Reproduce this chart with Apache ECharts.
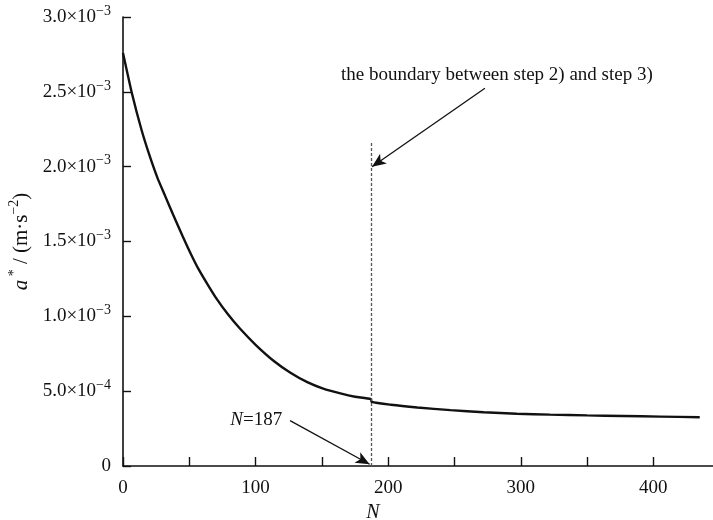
<!DOCTYPE html>
<html>
<head>
<meta charset="utf-8">
<script src="https://cdn.jsdelivr.net/npm/echarts@6/dist/echarts.min.js"></script>
<style>
  html, body { margin: 0; padding: 0; background: #fff; }
  #chart { width: 713px; height: 520px; }
</style>
</head>
<body>
<div id="chart"></div>
<script>
// N values and a* (m/s^2)
const nValues = [0, 7, 14, 20, 26, 32, 38, 45, 51, 57, 64, 70, 79, 88, 100, 114, 126, 139, 151, 164, 175, 187, 187.5, 202, 222, 247, 272, 297, 322, 350, 377, 405, 435];
const aValues = [2.76e-3, 2.48e-3, 2.245e-3, 2.075e-3, 1.925e-3, 1.80e-3, 1.675e-3, 1.535e-3, 1.42e-3, 1.315e-3, 1.21e-3, 1.125e-3, 1.015e-3, 0.92e-3, 0.81e-3, 0.70e-3, 0.625e-3, 0.56e-3, 0.517e-3, 0.485e-3, 0.463e-3, 0.447e-3, 0.428e-3, 0.409e-3, 0.391e-3, 0.373e-3, 0.359e-3, 0.349e-3, 0.343e-3, 0.338e-3, 0.334e-3, 0.330e-3, 0.326e-3];
const boundaryN = 187;
const boundaryTop = 2.165e-3;
const xTicks = [0, 100, 200, 300, 400];
const yTickLabels = ['0', '5.0×10|−4', '1.0×10|−3', '1.5×10|−3', '2.0×10|−3', '2.5×10|−3', '3.0×10|−3'];
const noteText = 'the boundary between step 2) and step 3)';
const noteAt = [282, 2.612e-3];
const noteArrow = [[273, 2.524e-3], [187.8, 2.0e-3]];
const nLabelAt = [100.5, 0.307e-3];
const nArrow = [[126, 0.303e-3], [186, 0.012e-3]];

const FONT = "'Liberation Serif', 'Times New Roman', serif";

let chart = echarts.init(document.getElementById('chart'));
let points = nValues.map((n, i) => [n, aValues[i]]);

function yFmt(v) {
  let idx = Math.round(v / 0.0005);
  let s = yTickLabels[idx];
  if (s === undefined) return '';
  if (s.indexOf('|') < 0) return '{b|' + s + '}';
  let p = s.split('|');
  return '{b|' + p[0] + '}{s|' + p[1] + '}';
}

let option = {
  animation: false,
  grid: { left: 123, right: 0, top: 17, bottom: 54, outerBoundsMode: 'none', containLabel: false },
  xAxis: {
    type: 'value',
    min: 0,
    max: 445,
    interval: 50,
    name: 'N',
    nameLocation: 'middle',
    nameGap: 32,
    nameTextStyle: { fontFamily: FONT, fontSize: 20, fontStyle: 'italic', color: '#111', padding: [0, 90, 0, 0] },
    axisLine: { lineStyle: { color: '#111', width: 1.6 } },
    axisTick: { inside: true, length: 9, lineStyle: { color: '#111', width: 1.4 } },
    axisLabel: {
      margin: 13,
      fontFamily: FONT, fontSize: 19, color: '#111',
      showMaxLabel: false,
      formatter: v => xTicks.indexOf(v) >= 0 ? String(v) : ''
    },
    splitLine: { show: false }
  },
  yAxis: {
    type: 'value',
    min: 0,
    max: 0.003,
    interval: 0.0005,
    name: '{i|a}{s| *}{t| / (m·s}{s|−2}{t|)}',
    nameLocation: 'middle',
    nameGap: 84,
    nameRotate: 90,
    nameTextStyle: {
      rich: {
        i: { fontFamily: FONT, fontSize: 21, fontStyle: 'italic', color: '#111', lineHeight: 28 },
        t: { fontFamily: FONT, fontSize: 21, color: '#111', lineHeight: 28 },
        s: { fontFamily: FONT, fontSize: 14, color: '#111', lineHeight: 12, verticalAlign: 'top' }
      }
    },
    axisLine: { lineStyle: { color: '#111', width: 1.6 } },
    axisTick: { inside: true, length: 8, lineStyle: { color: '#111', width: 1.4 } },
    axisLabel: {
      margin: 12,
      formatter: yFmt,
      rich: {
        b: { fontFamily: FONT, fontSize: 19, color: '#111', lineHeight: 26 },
        s: { fontFamily: FONT, fontSize: 14, color: '#111', lineHeight: 10, verticalAlign: 'top' }
      }
    },
    splitLine: { show: false }
  },
  series: [{
    type: 'line',
    data: points,
    symbol: 'none',
    smooth: 0.2,
    lineStyle: { color: '#111', width: 2.4 },
    markLine: {
      silent: true,
      animation: false,
      label: { show: false },
      data: [
        [
          { coord: [boundaryN, 0], symbol: 'none', lineStyle: { color: '#555', width: 1.3, type: [3, 2] } },
          { coord: [boundaryN, boundaryTop], symbol: 'none' }
        ],
        [
          { coord: noteArrow[0], symbol: 'none', lineStyle: { color: '#111', width: 1.3, type: 'solid' } },
          { coord: noteArrow[1], symbol: 'arrow', symbolSize: [9, 14] }
        ],
        [
          { coord: nArrow[0], symbol: 'none', lineStyle: { color: '#111', width: 1.3, type: 'solid' } },
          { coord: nArrow[1], symbol: 'arrow', symbolSize: [9, 14] }
        ]
      ]
    },
    markPoint: {
      silent: true,
      symbol: 'circle',
      symbolSize: 0,
      data: [
        {
          coord: noteAt,
          label: {
            show: true, position: 'inside', formatter: noteText,
            fontFamily: FONT, fontSize: 19, color: '#111'
          }
        },
        {
          coord: nLabelAt,
          label: {
            show: true, position: 'inside', formatter: '{i|N}{t|=187}',
            rich: {
              i: { fontFamily: FONT, fontSize: 19, fontStyle: 'italic', color: '#111' },
              t: { fontFamily: FONT, fontSize: 19, color: '#111' }
            }
          }
        }
      ]
    }
  }]
};

chart.setOption(option);
</script>
</body>
</html>
